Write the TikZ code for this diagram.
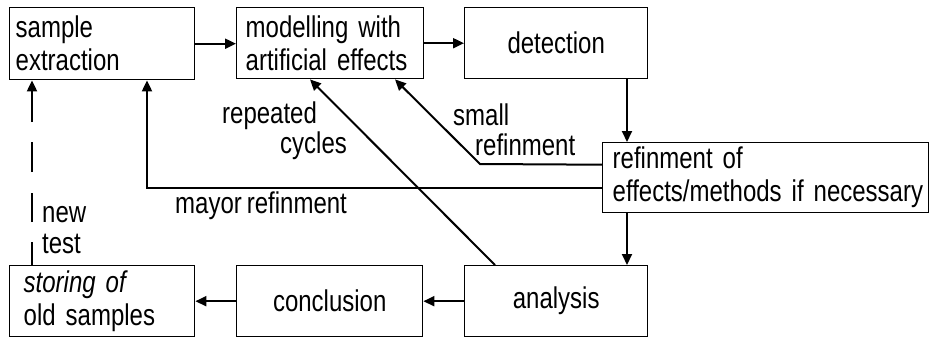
\documentclass[tikz,border=0pt]{standalone}
\usepackage{fontspec}
\setmainfont{Liberation Sans}[FakeStretch=0.8, WordSpace=0.75]
\usetikzlibrary{arrows.meta}
\begin{document}
\begin{tikzpicture}[x=1pt,y=-1pt,
  box/.style={draw, line width=1.4pt, rectangle, anchor=north west, inner ysep=0pt,
    font=\fontsize{30}{33}\selectfont},
  lbl/.style={anchor=base west, inner sep=0pt, font=\fontsize{30}{33}\selectfont},
  conn/.style={line width=2pt, -{Triangle[length=11pt,width=10pt]}}]
\useasboundingbox (0,0) rectangle (930,338);
\node[box, minimum width=185pt, minimum height=72pt, inner xsep=6pt, text width=173pt, align=left] (sample) at (9,7) {sample\\extraction};
\node[box, minimum width=187pt, minimum height=71pt, inner xsep=9pt, text width=169pt, align=left] (model) at (236,7) {\mbox{modelling with}\\\mbox{artificial effects}};
\node[box, minimum width=183pt, minimum height=71pt, align=center] (detect) at (464,7) {detection};
\node[box, minimum width=326pt, minimum height=70pt, inner xsep=10pt, text width=306pt, align=left] (refine) at (602,142) {\mbox{refinment of}\\\mbox{effects/methods if necessary}};
\node[box, minimum width=185pt, minimum height=71pt, inner xsep=14pt, text width=157pt, align=left] (store) at (9,265) {{\itshape storing of}\\old samples};
\node[box, minimum width=186pt, minimum height=71pt, align=center] (concl) at (236,265) {conclusion};
\node[box, minimum width=183pt, minimum height=71pt, align=center] (analysis) at (464,265) {analysis};

\draw[conn] (sample.east) -- (sample.east -| model.west);
\draw[conn] (model.east) -- (model.east -| detect.west);
\draw[conn] ([xshift=163pt]detect.south west) -- ([xshift=25pt]refine.north west);
\draw[conn] ([xshift=25pt]refine.south west) -- ([xshift=163pt]analysis.north west);
\draw[conn] (analysis.west) -- (concl.east);
\draw[conn] (concl.west) -- (store.east);

\coordinate (bend) at (480,164);
\draw[conn] ([yshift=13pt]refine.west) -- (bend) -- ([xshift=159pt]model.south west);
\draw[conn] ([yshift=-10pt]refine.west) -| ([xshift=138pt]sample.south west);
\draw[conn] ([xshift=31pt]analysis.north west) -- ([xshift=74pt]model.south west);
\draw[conn, dash pattern=on 23pt off 20pt on 29pt off 21pt on 30pt off 20pt on 60pt off 0pt]
  ([xshift=23pt]store.north west) -- ([xshift=23pt]sample.south west);

\node[lbl] (t1) at (222,123) {repeated};
\node[lbl] (t2) at (280,153) {cycles};
\node[lbl] (t3) at (453,125) {small};
\node[lbl] (t4) at (475,155) {refinment};
\node[lbl] (t5) at (175,213) {mayor refinment};
\node[lbl] (t6) at (42,222) {new};
\node[lbl] (t7) at (42,253) {test};
\end{tikzpicture}
\end{document}
